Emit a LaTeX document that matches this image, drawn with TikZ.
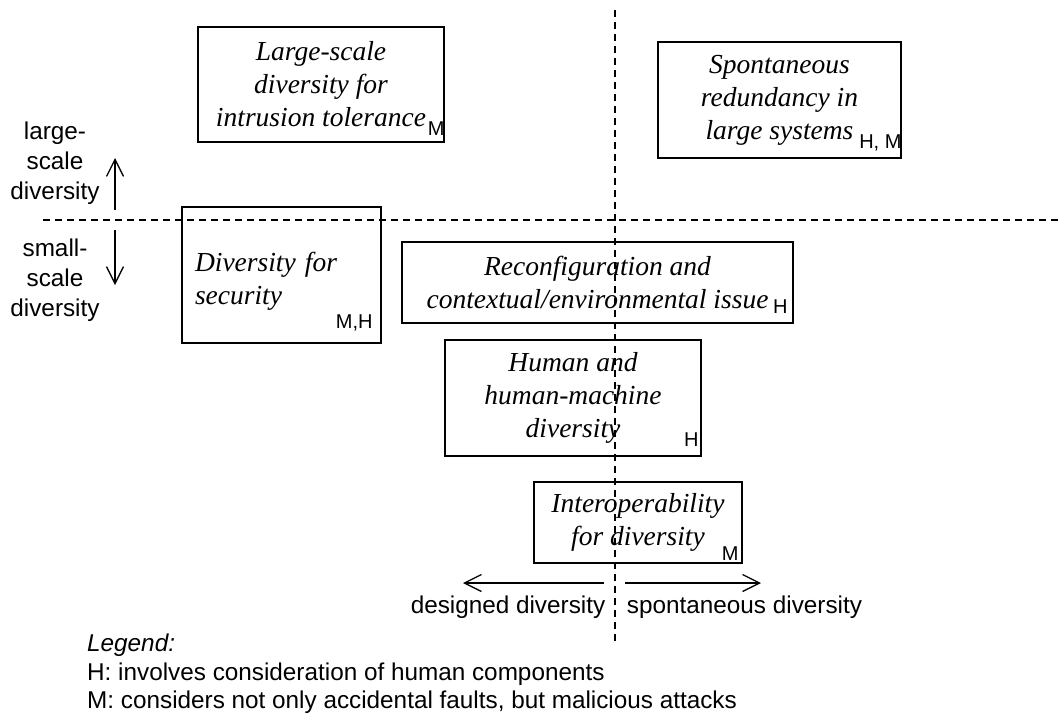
\documentclass[tikz,border=0pt]{standalone}
\usepackage{fontspec}
\setmainfont{Liberation Sans}
\newfontfamily\boxfont{Liberation Serif}
\usetikzlibrary{arrows.meta}

\begin{document}
\begin{tikzpicture}[x=1pt, y=-1pt,
    box/.style={draw, rectangle, line width=1.4pt, align=center, inner sep=0pt, font=\boxfont\itshape\fontsize{27.5}{33}\selectfont},
    sub/.style={anchor=base east, inner sep=0pt, font=\fontsize{20}{24}\selectfont},
    side/.style={align=center, inner sep=0pt, font=\fontsize{24.3}{30}\selectfont},
    arrow/.style={-{Straight Barb[length=17pt,width=17pt]}, line width=1.3pt},
    divider/.style={dash pattern=on 7pt off 5pt, line width=1.3pt}
]
\useasboundingbox (0,0) rectangle (1059,715);

% quadrant dividers
\coordinate (vtop) at (615,10);
\coordinate (vbot) at (615,645);
\coordinate (hleft) at (43,220);
\coordinate (hright) at (1059,220);
\draw[divider] (vtop) -- (vbot);
\draw[divider] (hleft) -- (hright);

% research areas
\node[box, minimum width=246pt, minimum height=115pt] (intr) at (321,84.5) {Large-scale\\diversity for\\intrusion tolerance};
\node[box, minimum width=243pt, minimum height=116pt] (spont) at (779.5,100) {Spontaneous\\redundancy in\\large systems};
\node[box, minimum width=199pt, minimum height=136pt] (sec) at (281.5,275) {};
\node[box, draw=none, align=left, text width=173pt] (sectext) at (281.5,281) {Diversity for\\security};
\node[box, minimum width=391pt, minimum height=81pt] (reconf) at (597.5,282.5) {Reconfiguration and\\contextual/environmental issue};
\node[box, minimum width=256pt, minimum height=116pt] (human) at (573,398) {Human and\\human-machine\\diversity};
\node[box, minimum width=208pt, minimum height=81pt] (inter) at (638,522.5) {Interoperability\\for diversity};

\node[sub, yshift=7pt] (intrsub) at (intr.south east) {M};
\node[sub, yshift=10pt] (spontsub) at (spont.south east) {H, M};
\node[sub, xshift=-9pt, yshift=15pt] (secsub) at (sec.south east) {M,H};
\node[sub, xshift=-6pt, yshift=10pt] (reconfsub) at (reconf.south east) {H};
\node[sub, xshift=-3pt, yshift=10pt] (humansub) at (human.south east) {H};
\node[sub, xshift=-4pt, yshift=3pt] (intersub) at (inter.south east) {M};

% scale axis
\node[side] (large) at (55,163) {large-\\scale\\diversity};
\node[side] (small) at (55,280) {small-\\scale\\diversity};
\coordinate (upfrom) at (115,210);
\coordinate (upto) at (115,158);
\coordinate (downfrom) at (115,230);
\coordinate (downto) at (115,285);
\draw[arrow] (upfrom) -- (upto);
\draw[arrow] (downfrom) -- (downto);

% design axis
\coordinate (leftfrom) at (604,583);
\coordinate (leftto) at (463,583);
\coordinate (rightfrom) at (625,583);
\coordinate (rightto) at (761,583);
\draw[arrow] (leftfrom) -- (leftto);
\draw[arrow] (rightfrom) -- (rightto);
\node[side] (designed) at (508,607) {designed diversity};
\node[side] (spontdiv) at (744.5,607) {spontaneous diversity};

% legend
\node[side, anchor=west, align=left, font=\fontsize{24.3}{28.5}\selectfont] (legend) at (87,674) {\textit{Legend:}\\H: involves consideration of human components\\M: considers not only accidental faults, but malicious attacks};
\end{tikzpicture}
\end{document}
